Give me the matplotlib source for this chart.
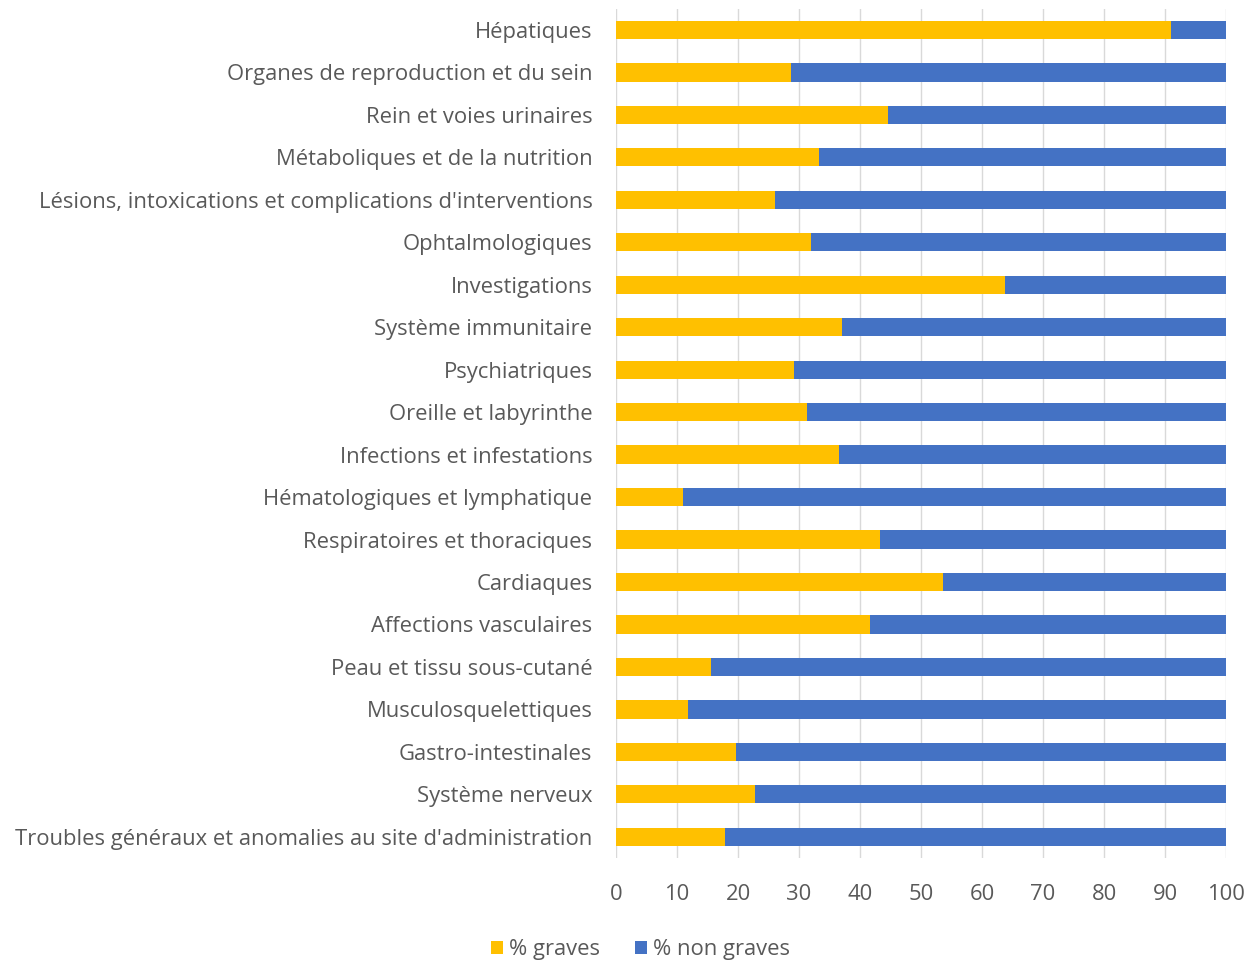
import numpy as np
import matplotlib.pyplot as plt

plt.rcParams['font.family'] = ['Open Sans', 'DejaVu Sans']

# categories listed bottom to top (barh draws the first one at the bottom)
categories = [
    "Troubles généraux et anomalies au site d'administration",
    "Système nerveux",
    "Gastro-intestinales",
    "Musculosquelettiques",
    "Peau et tissu sous-cutané",
    "Affections vasculaires",
    "Cardiaques",
    "Respiratoires et thoraciques",
    "Hématologiques et lymphatique",
    "Infections et infestations",
    "Oreille et labyrinthe",
    "Psychiatriques",
    "Système immunitaire",
    "Investigations",
    "Ophtalmologiques",
    "Lésions, intoxications et complications d'interventions",
    "Métaboliques et de la nutrition",
    "Rein et voies urinaires",
    "Organes de reproduction et du sein",
    "Hépatiques",
]
pct_graves = [17.8, 22.7, 19.6, 11.8, 15.6, 41.6, 53.6, 43.3, 10.9, 36.5,
              31.3, 29.1, 37.1, 63.7, 32.0, 26.0, 33.3, 44.6, 28.7, 90.9]
pct_non_graves = [100 - v for v in pct_graves]

YELLOW = "#FFC000"
BLUE = "#4472C4"
TEXT = "#595959"

fig = plt.figure(figsize=(12.58, 9.63), dpi=100)
ax = fig.add_axes([0.4897, 0.109, 0.4849, 0.882])

y = np.arange(len(categories))
ax.barh(y, pct_graves, height=0.43, color=YELLOW, label="% graves", zorder=2)
ax.barh(y, pct_non_graves, left=pct_graves, height=0.43, color=BLUE,
        label="% non graves", zorder=2)

ax.set_xlim(0, 100)
ax.set_ylim(-0.5, len(categories) - 0.5)
ax.set_xticks(np.arange(0, 101, 10))
ax.set_yticks(y)
ax.set_yticklabels(categories)
ax.tick_params(axis='both', length=0, labelsize=15.8, colors=TEXT)
ax.tick_params(axis='x', pad=19)
ax.tick_params(axis='y', pad=17)
ax.grid(axis='x', color="#D9D9D9", linewidth=1.0, zorder=0)
for s in ax.spines.values():
    s.set_visible(False)

ax.legend(loc='upper center', bbox_to_anchor=(0.04, -0.072), ncol=2,
          frameon=False, fontsize=15.8, handlelength=0.55, handleheight=0.55,
          handletextpad=0.25, columnspacing=1.6, labelcolor=TEXT)

fig.savefig("out.png", dpi=100)
